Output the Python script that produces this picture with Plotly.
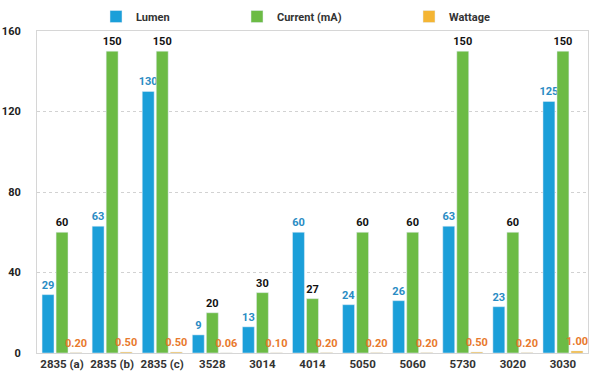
import plotly.graph_objects as go

categories = ["2835 (a)", "2835 (b)", "2835 (c)", "3528", "3014", "4014",
              "5050", "5060", "5730", "3020", "3030"]
lumen = [29, 63, 130, 9, 13, 60, 24, 26, 63, 23, 125]
current = [60, 150, 150, 20, 30, 27, 60, 60, 150, 60, 150]
wattage = [0.20, 0.50, 0.50, 0.06, 0.10, 0.20, 0.20, 0.20, 0.50, 0.20, 1.00]
y_ticks = [0, 40, 80, 120, 160]

FONT = "Roboto, Liberation Sans, sans-serif"

fig = go.Figure()
fig.add_trace(go.Bar(
    name="Lumen", x=categories, y=lumen, marker_color="#1b9fd9",
    text=[str(v) for v in lumen], textposition="outside", constraintext="none",
    textfont=dict(color="#2a8cc4", size=11, family=FONT, weight="bold"),
    cliponaxis=False, legend="legend"))
fig.add_trace(go.Bar(
    name="Current (mA)", x=categories, y=current, marker_color="#6cbb45",
    text=[str(v) for v in current], textposition="outside", constraintext="none",
    textfont=dict(color="#111111", size=11, family=FONT, weight="bold"),
    cliponaxis=False, legend="legend2"))
fig.add_trace(go.Bar(
    name="Wattage", x=categories, y=wattage, marker_color="#f4b534",
    text=[f"{v:.2f}" for v in wattage], textposition="outside", constraintext="none",
    textfont=dict(color="#e8792c", size=11, family=FONT, weight="bold"),
    cliponaxis=False, legend="legend3"))

leg = dict(orientation="h", yanchor="middle", xanchor="left", y=1.045,
           bgcolor="rgba(0,0,0,0)", font=dict(size=11, color="#333333", family=FONT, weight="bold"),
           itemwidth=30, visible=True)
fig.update_layout(
    width=600, height=380, showlegend=True,
    margin=dict(l=37, r=12, t=31, b=27, autoexpand=False),
    paper_bgcolor="white", plot_bgcolor="white",
    barmode="group", bargap=0.16, bargroupgap=0.15,
    font=dict(family=FONT, size=11, color="#333333", weight="bold"),
    legend=dict(leg, x=(112 - 53) / 551),
    legend2=dict(leg, x=(253 - 53) / 551),
    legend3=dict(leg, x=(425 - 53) / 551),
    xaxis=dict(showline=True, mirror=True, linecolor="#d6d6d6", linewidth=1,
               ticks="", tickfont=dict(size=11.5, color="#333333", family=FONT, weight="bold"),
               range=[-0.5, 10.5]),
    yaxis=dict(range=[0, 160], tickvals=y_ticks, showline=True, mirror=True,
               linecolor="#d6d6d6", linewidth=1, showgrid=True, gridcolor="#d2d2d2",
               griddash="dot", zeroline=False, ticklabelstandoff=13,
               tickfont=dict(size=11, color="#222222", family=FONT, weight="bold")),
)
fig.write_html("out.html", config={"displayModeBar": False},
               post_script="document.body.style.margin='0';")
